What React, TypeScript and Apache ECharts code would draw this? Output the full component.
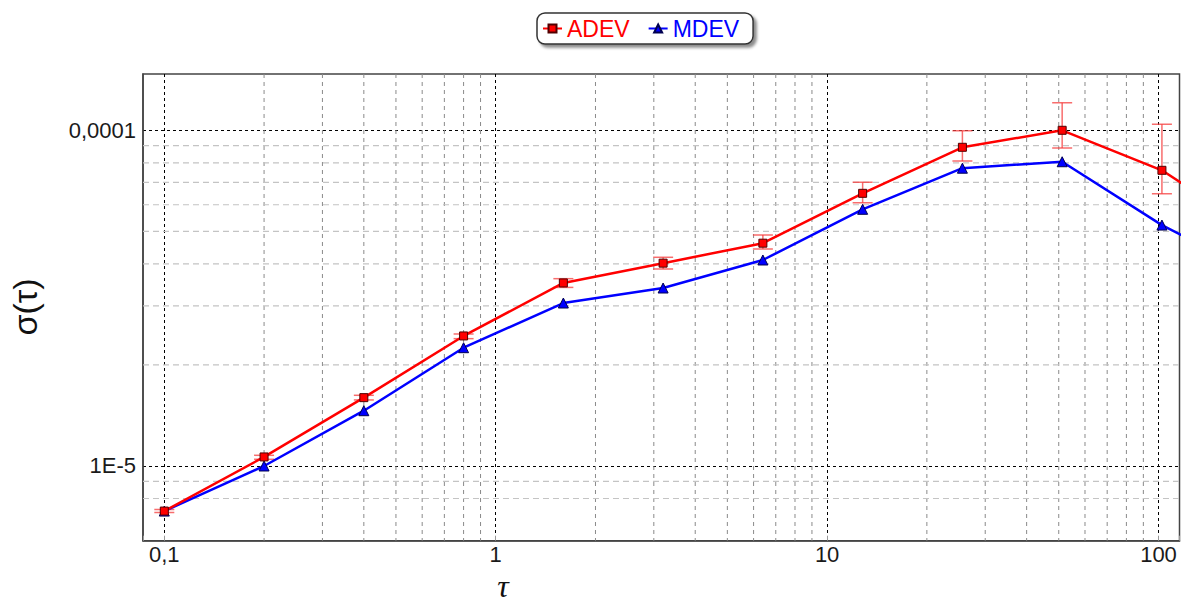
import React, { useEffect, useRef } from "react";
import * as echarts from "echarts";

// ---- data ----
const tau = [0.1, 0.2, 0.4, 0.8, 1.6, 3.2, 6.4, 12.8, 25.6, 51.2, 102.4, 204.8];
const adev = [7.34e-6, 1.064e-5, 1.598e-5, 2.44e-5, 3.51e-5, 4.02e-5, 4.61e-5, 6.49e-5, 8.9e-5, 1.0e-4, 7.6e-5, 4.87e-5];
const adevLow = [7.27e-6, 1.047e-5, 1.573e-5, 2.395e-5, 3.404e-5, 3.862e-5, 4.43e-5, 6.085e-5, 8.1e-5, 8.86e-5, 6.47e-5];
const adevHigh = [7.42e-6, 1.076e-5, 1.624e-5, 2.473e-5, 3.614e-5, 4.185e-5, 4.877e-5, 7.0e-5, 9.97e-5, 1.208e-4, 1.042e-4];
const mdev = [7.34e-6, 1.0e-5, 1.461e-5, 2.251e-5, 3.058e-5, 3.39e-5, 4.108e-5, 5.816e-5, 7.71e-5, 8.06e-5, 5.22e-5, 3.67e-5];

const xTickValues = [0.1, 1, 10, 100];
const xTickLabels = ["0,1", "1", "10", "100"];
const yTickValues = [1e-5, 1e-4];
const yTickLabels = ["1E-5", "0,0001"];
const xMinorValues = [0.2, 0.3, 0.4, 0.5, 0.6, 0.7, 0.8, 0.9, 2, 3, 4, 5, 6, 7, 8, 9, 20, 30, 40, 50, 60, 70, 80, 90];
const yMinorValues = [8e-6, 9e-6, 2e-5, 3e-5, 4e-5, 5e-5, 6e-5, 7e-5, 8e-5, 9e-5];

const X_MIN = 0.08624;
const X_MAX = 115.7;
const Y_MIN = 5.99e-6;
const Y_MAX = 1.4713e-4;

const FONT = '"Liberation Sans", Arial, sans-serif';

function labelFor(values: number[], labels: string[]) {
  return (v: number) => {
    for (let i = 0; i < values.length; i++) {
      if (Math.abs(Math.log10(v) - Math.log10(values[i])) < 1e-6) return labels[i];
    }
    return "";
  };
}

export default function App() {
  const ref = useRef<HTMLDivElement>(null);
  useEffect(() => {
    if (!ref.current) return;
    const chart = echarts.init(ref.current, undefined, { renderer: "svg" });
    const errData = adevLow.map((lo, i) => [tau[i], lo, adevHigh[i]]);
    const refX = xTickValues[1];
    const refY = yTickValues[0];
    chart.setOption({
      animation: false,
      backgroundColor: "#fff",
      grid: {
        left: 143,
        top: 74,
        width: 1036.5,
        height: 466.7,
        show: true,
        borderColor: "#444",
        borderWidth: 1.5,
        backgroundColor: "transparent",
      },
      legend: {
        left: 537,
        top: 13,
        padding: [4, 14, 4, 5],
        itemWidth: 19,
        itemHeight: 10,
        itemGap: 18,
        backgroundColor: "#fff",
        borderColor: "#333",
        borderWidth: 1.5,
        borderRadius: 8,
        shadowColor: "rgba(0,0,0,0.45)",
        shadowBlur: 3,
        shadowOffsetX: 3,
        shadowOffsetY: 3,
        textStyle: { fontSize: 23, fontFamily: FONT },
        data: [
          { name: "ADEV", textStyle: { color: "#ff0000" } },
          { name: "MDEV", textStyle: { color: "#0000ff" } },
        ],
      },
      xAxis: {
        type: "log",
        logBase: 10,
        min: X_MIN,
        max: X_MAX,
        axisLine: { show: true, lineStyle: { color: "#444", width: 1.5 } },
        axisTick: { show: true, inside: true, length: 5, lineStyle: { color: "#999" } },
        axisLabel: {
          formatter: labelFor(xTickValues, xTickLabels),
          fontSize: 22,
          fontFamily: FONT,
          color: "#1a1a1a",
          margin: 3,
        },
        splitLine: {
          show: true,
          showMinLine: false,
          showMaxLine: false,
          lineStyle: { color: "#000", type: [3, 3], width: 1 },
        },
      },
      yAxis: {
        type: "log",
        logBase: 10,
        min: Y_MIN,
        max: Y_MAX,
        axisLine: { show: true, lineStyle: { color: "#444", width: 1.5 } },
        axisTick: { show: false },
        axisLabel: {
          formatter: labelFor(yTickValues, yTickLabels),
          fontSize: 22,
          fontFamily: FONT,
          color: "#1a1a1a",
          margin: 7,
        },
        splitLine: {
          show: true,
          showMinLine: false,
          showMaxLine: false,
          lineStyle: { color: "#000", type: [3, 3], width: 1 },
        },
      },
      graphic: [
        {
          type: "text",
          x: 25,
          y: 307,
          rotation: Math.PI / 2,
          style: {
            text: "σ(τ)",
            font: `34px ${FONT}`,
            fill: "#111",
            textAlign: "center",
            textVerticalAlign: "middle",
          },
        },
        {
          type: "text",
          x: 503,
          y: 586,
          style: {
            text: "τ",
            font: 'italic 32px "Liberation Serif", serif',
            fill: "#111",
            textAlign: "center",
            textVerticalAlign: "middle",
          },
        },
      ],
      series: [
        {
          name: "_gridX",
          type: "custom",
          silent: true,
          z: 1,
          encode: { x: 0 },
          data: xMinorValues.map((v) => [v]),
          renderItem: (params: any, api: any) => {
            const cs = params.coordSys;
            const p = api.coord([api.value(0), refY]);
            return {
              type: "line",
              shape: { x1: p[0], y1: cs.y, x2: p[0], y2: cs.y + cs.height },
              style: { stroke: "#8a8a8a", lineWidth: 1, lineDash: [4, 4] },
            };
          },
        },
        {
          name: "_gridY",
          type: "custom",
          silent: true,
          z: 1,
          encode: { y: 0 },
          data: yMinorValues.map((v) => [v]),
          renderItem: (params: any, api: any) => {
            const cs = params.coordSys;
            const p = api.coord([refX, api.value(0)]);
            return {
              type: "line",
              shape: { x1: cs.x, y1: p[1], x2: cs.x + cs.width, y2: p[1] },
              style: { stroke: "#c4c4c4", lineWidth: 1.2, lineDash: [6, 4] },
            };
          },
        },
        {
          name: "ADEV_err",
          type: "custom",
          z: 2,
          clip: true,
          encode: { x: 0, y: [1, 2] },
          data: errData,
          renderItem: (params: any, api: any) => {
            const x = api.value(0);
            const lo = api.coord([x, api.value(1)]);
            const hi = api.coord([x, api.value(2)]);
            const half = 10;
            const style = { stroke: "rgba(245,60,60,0.75)", lineWidth: 1.5 };
            return {
              type: "group",
              children: [
                { type: "line", shape: { x1: hi[0], y1: hi[1], x2: lo[0], y2: lo[1] }, style },
                { type: "line", shape: { x1: hi[0] - half, y1: hi[1], x2: hi[0] + half, y2: hi[1] }, style },
                { type: "line", shape: { x1: lo[0] - half, y1: lo[1], x2: lo[0] + half, y2: lo[1] }, style },
              ],
            };
          },
        },
        {
          name: "MDEV",
          type: "line",
          z: 3,
          data: tau.map((t, i) => [t, mdev[i]]),
          symbol: "triangle",
          symbolSize: 10,
          lineStyle: { color: "#0000ff", width: 2.5 },
          itemStyle: { color: "#0000ff", borderColor: "#000050", borderWidth: 1 },
          clip: true,
        },
        {
          name: "ADEV",
          type: "line",
          z: 4,
          data: tau.map((t, i) => [t, adev[i]]),
          symbol: "rect",
          symbolSize: 8,
          lineStyle: { color: "#ff0000", width: 2.5 },
          itemStyle: { color: "#ff0000", borderColor: "#500000", borderWidth: 1 },
          clip: true,
        },
      ],
    });
    return () => chart.dispose();
  }, []);
  return (
    <div
      ref={ref}
      style={{ position: "fixed", left: 0, top: 0, width: 1188, height: 603, background: "#fff" }}
    />
  );
}
